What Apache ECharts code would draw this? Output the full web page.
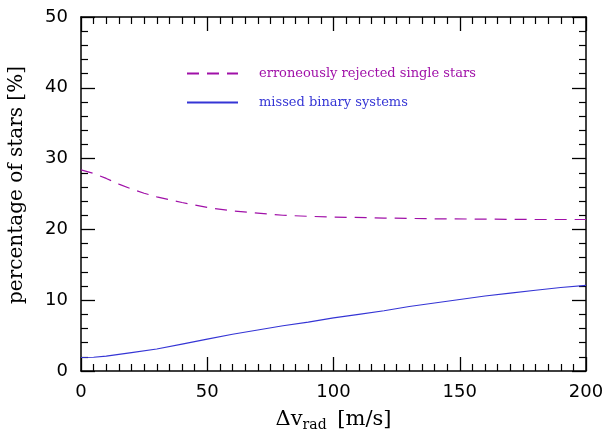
<!DOCTYPE html>
<html><head><meta charset="utf-8">
<script src="https://cdn.jsdelivr.net/npm/echarts@6/dist/echarts.min.js"></script>
<style>html,body{margin:0;padding:0;background:#fff}#c{width:605px;height:429px}</style>
</head><body><div id="c"></div>
<script>
const rejX = [0,5,10,15,20,25,30,40,50,60,70,80,90,100,120,140,160,180,200];
const rejY = [28.4,27.9,27.2,26.4,25.7,25.1,24.6,23.8,23.1,22.6,22.3,22.0,21.85,21.75,21.6,21.5,21.45,21.4,21.4];
const binX = [0,5,10,20,30,40,50,60,70,80,90,100,110,120,130,140,150,160,170,180,190,200];
const binY = [1.9,1.95,2.1,2.6,3.1,3.8,4.5,5.2,5.8,6.4,6.9,7.5,8.0,8.5,9.1,9.6,10.1,10.6,11.0,11.4,11.8,12.1];
const seriesNames = ['erroneously rejected single stars','missed binary systems'];
const colors = ['#a010a8','#3535d5'];

const chart = echarts.init(document.getElementById('c'), null, {renderer:'canvas'});
const axLine = {show:true, onZero:false, lineStyle:{color:'#000', width:1.5}};
const tickIn = {show:true, inside:true, length:14, lineStyle:{color:'#000', width:1.3}};
function minor(n){return {show:true, splitNumber:n, length:7, lineStyle:{color:'#000', width:1.2}};}
const font = 'DejaVu Sans';
const serif = 'DejaVu Serif';
function zip(a,b){return a.map((v,i)=>[v,b[i]]);}
chart.setOption({
  animation:false,
  backgroundColor:'#fff',
  grid:{left:81, right:19, top:17, bottom:58, containLabel:false, outerBoundsMode:'none'},
  legend:{
    orient:'vertical', left:181, top:62, itemWidth:51, itemHeight:10, itemGap:16,
    itemStyle:{opacity:0},
    textStyle:{fontFamily:serif, fontSize:13, padding:[0,0,0,16]},
    data:[{name:seriesNames[0], textStyle:{color:colors[0]}},{name:seriesNames[1], textStyle:{color:colors[1]}}]
  },
  xAxis:[
    {type:'value', min:0, max:200, interval:50, position:'bottom',
     axisLine:axLine, axisTick:tickIn, minorTick:minor(10),
     splitLine:{show:false}, minorSplitLine:{show:false},
     axisLabel:{color:'#000', fontFamily:font, fontSize:18, margin:12},
     name:'{a|Δv}{s|rad}{a| [m/s]}', nameLocation:'middle', nameGap:37,
     nameTextStyle:{rich:{a:{fontFamily:serif, fontSize:21, color:'#000'}, s:{fontFamily:serif, fontSize:14, color:'#000', verticalAlign:'bottom', padding:[10,4,0,0]}}}},
    {type:'value', min:0, max:200, interval:50, position:'top',
     axisLine:axLine, axisTick:tickIn, minorTick:minor(10),
     splitLine:{show:false}, axisLabel:{show:false}}
  ],
  yAxis:[
    {type:'value', min:0, max:50, interval:10, position:'left',
     axisLine:axLine, axisTick:tickIn, minorTick:minor(5),
     splitLine:{show:false}, minorSplitLine:{show:false},
     axisLabel:{color:'#000', fontFamily:font, fontSize:18, margin:13},
     name:'percentage of stars [%]', nameLocation:'middle', nameGap:54,
     nameTextStyle:{fontFamily:serif, fontSize:20, color:'#000', padding:[0,0,0,18]}},
    {type:'value', min:0, max:50, interval:10, position:'right',
     axisLine:axLine, axisTick:tickIn, minorTick:minor(5),
     splitLine:{show:false}, axisLabel:{show:false}}
  ],
  series:[
    {name:seriesNames[0], type:'line', data:zip(rejX,rejY), smooth:false, symbol:'none',
     lineStyle:{color:colors[0], width:1.2, type:[12,8]}, itemStyle:{color:colors[0]}},
    {name:seriesNames[1], type:'line', data:zip(binX,binY), smooth:false, symbol:'none',
     lineStyle:{color:colors[1], width:1.1, type:'solid'}, itemStyle:{color:colors[1]}}
  ]
});
</script></body></html>
